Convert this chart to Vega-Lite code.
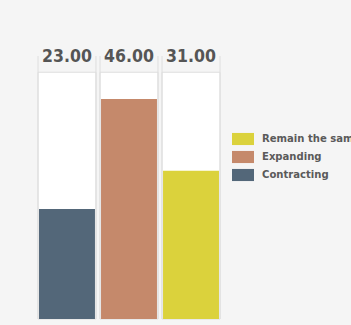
{
  "$schema": "https://vega.github.io/schema/vega-lite/v6.json",
  "autosize": "none",
  "padding": {"left": 38, "top": 56, "right": 131, "bottom": 6},
  "width": 182,
  "height": 263,
  "background": "#f5f5f5",
  "config": {"view": {"stroke": null}},
  "data": {"values": [
    {"status": "Contracting", "pct": 23, "label": "23.00"},
    {"status": "Expanding", "pct": 46, "label": "46.00"},
    {"status": "Remain the same", "pct": 31, "label": "31.00"}
  ]},
  "encoding": {
    "x": {"field": "status", "type": "nominal", "sort": ["Contracting", "Expanding", "Remain the same"],
          "scale": {"paddingInner": 0.065, "paddingOuter": 0}, "axis": null}
  },
  "layer": [
    {
      "mark": {"type": "bar", "fill": "white", "stroke": "#dedede", "strokeWidth": 1},
      "encoding": {
        "y": {"datum": 51.6, "type": "quantitative", "scale": {"domain": [0, 55], "nice": false}, "axis": null},
        "y2": {"datum": 0}
      }
    },
    {
      "mark": {"type": "rule", "color": "#dedede", "strokeWidth": 1},
      "encoding": {
        "x": {"field": "status", "type": "nominal", "sort": ["Contracting", "Expanding", "Remain the same"], "bandPosition": 0},
        "y": {"datum": 55, "type": "quantitative"},
        "y2": {"datum": 0}
      }
    },
    {
      "mark": {"type": "rule", "color": "#dedede", "strokeWidth": 1},
      "encoding": {
        "x": {"field": "status", "type": "nominal", "sort": ["Contracting", "Expanding", "Remain the same"], "bandPosition": 1},
        "y": {"datum": 55, "type": "quantitative"},
        "y2": {"datum": 0}
      }
    },
    {
      "mark": {"type": "bar", "width": {"band": 0.965}},
      "encoding": {
        "y": {"field": "pct", "type": "quantitative"},
        "color": {
          "field": "status", "type": "nominal",
          "scale": {"domain": ["Remain the same", "Expanding", "Contracting"], "range": ["#dbd23c", "#c5896b", "#536779"]},
          "legend": {
            "title": null, "orient": "none", "legendX": 194, "legendY": 72,
            "symbolType": "M-1,-0.55H1V0.55H-1Z", "symbolSize": 484, "symbolStrokeWidth": 0, "symbolOpacity": 1,
            "labelFont": "DejaVu Sans Condensed", "labelFontSize": 11.2, "labelFontWeight": "bold",
            "labelColor": "#5a5a5a", "rowPadding": -3, "labelOffset": 8, "labelLimit": 200
          }
        }
      }
    },
    {
      "mark": {"type": "text", "font": "DejaVu Sans Condensed", "fontSize": 17.5, "fontWeight": "bold",
               "color": "#555555", "baseline": "alphabetic", "align": "center"},
      "encoding": {
        "y": {"datum": 53.8, "type": "quantitative"},
        "text": {"field": "label"}
      }
    }
  ]
}
